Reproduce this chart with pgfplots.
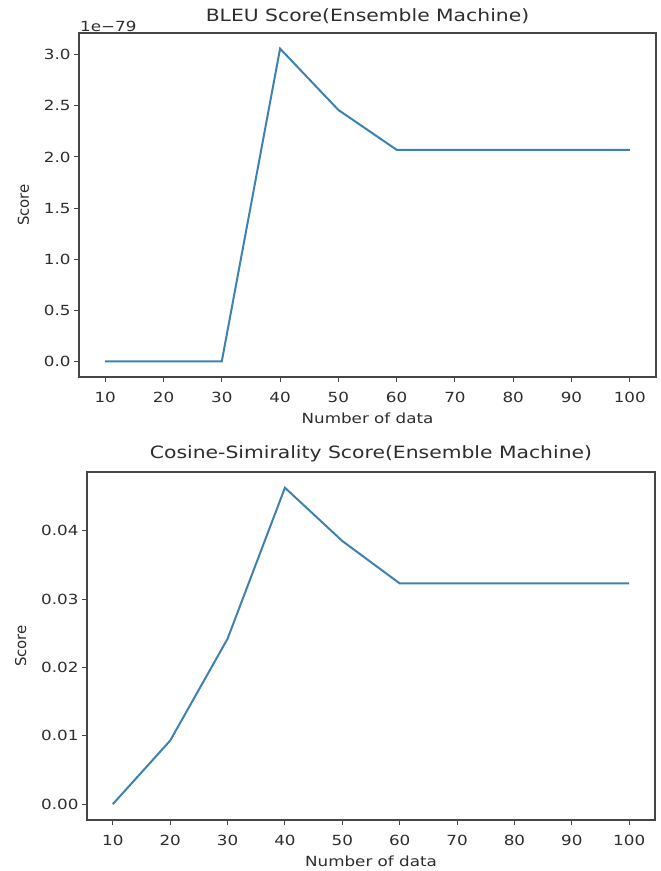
\documentclass[border=0pt]{standalone}
\usepackage{fontspec}
\setmainfont{DejaVu Sans}[FakeStretch=1.2]
\newfontfamily\plainfont{DejaVu Sans}
\usepackage{pgfplots}
\pgfplotsset{compat=1.18}
\definecolor{lineblue}{RGB}{62,130,178}
\definecolor{framegray}{RGB}{70,70,70}
\definecolor{textgray}{RGB}{45,45,45}
\pgfplotsset{
  mystyle/.style={
    anchor=south west, scale only axis,
    clip mode=individual,
    axis line style={framegray, line width=1.2bp},
    tick style={framegray, line width=1bp},
    tick align=outside, tick pos=left,
    major tick length=5bp,
    xmin=5.5, xmax=104.5,
    xtick={10,20,...,100},
    scaled y ticks=false,
    /pgf/number format/assume math mode=true,
    tick label style={font=\fontsize{14}{16}\selectfont, text=textgray},
    xticklabel style={yshift=-7bp},
    label style={font=\fontsize{14}{16}\selectfont, text=textgray},
    title style={font=\fontsize{17}{20}\selectfont, text=textgray},
    xlabel={Number of data},
    ylabel={Score},
    xlabel style={yshift=-3bp},
    ylabel style={yshift=8bp, font=\plainfont\fontsize{15}{17}\selectfont},
  }
}
\begin{document}
\begin{tikzpicture}[x=1bp,y=1bp]
\useasboundingbox (0,0) rectangle (661,871);
\begin{axis}[mystyle,
  at={(79bp,494bp)}, width=577bp, height=344bp,
  ymin=-0.153, ymax=3.213,
  ytick={0,0.5,1.0,1.5,2.0,2.5,3.0},
  yticklabel style={/pgf/number format/fixed, /pgf/number format/fixed zerofill, /pgf/number format/precision=1},
  title={BLEU Score(Ensemble Machine)},
]
\addplot[lineblue, line width=2bp] coordinates {
(10,0) (20,0) (30,0) (40,3.06) (50,2.46) (60,2.07) (70,2.07) (80,2.07) (90,2.07) (100,2.07)
};
\node[anchor=south west, font=\fontsize{14}{16}\selectfont, text=textgray, inner sep=1bp] at (rel axis cs:0,1) {1e−79};
\end{axis}
\begin{axis}[mystyle,
  at={(87bp,51bp)}, width=568bp, height=348bp,
  ymin=-0.00232, ymax=0.0486,
  ytick={0,0.01,0.02,0.03,0.04},
  yticklabel style={/pgf/number format/fixed, /pgf/number format/fixed zerofill, /pgf/number format/precision=2},
  title={Cosine-Simirality Score(Ensemble Machine)},
]
\addplot[lineblue, line width=2bp] coordinates {
(10,0) (20,0.0093) (30,0.0242) (40,0.0463) (50,0.0385) (60,0.0323) (70,0.0323) (80,0.0323) (90,0.0323) (100,0.0323)
};
\end{axis}
\end{tikzpicture}
\end{document}
